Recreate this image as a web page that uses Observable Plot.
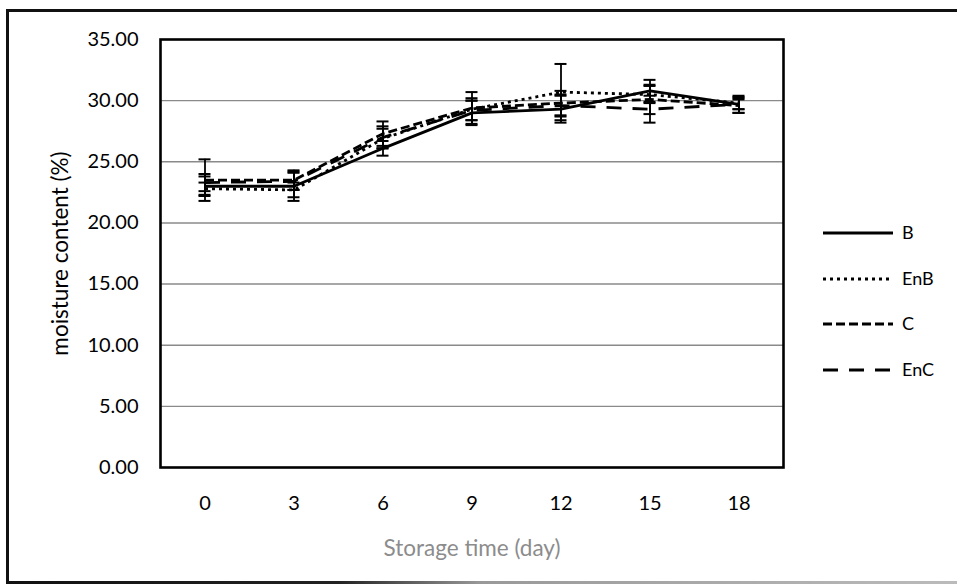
<!DOCTYPE html>
<html>
<head>
<meta charset="utf-8">
<script src="https://cdn.jsdelivr.net/npm/d3@7"></script>
<script src="https://cdn.jsdelivr.net/npm/@observablehq/plot@0.6"></script>
<style>
  html, body { margin: 0; padding: 0; background: #fff; }
  #wrap { position: relative; width: 957px; height: 586px; overflow: hidden; font-family: Lato, "Noto Sans", sans-serif; }
  .edge { position: absolute; background: #111; }
  #legend { position: absolute; left: 0; top: 0; }
</style>
</head>
<body>
<div id="wrap">
  <div id="chart"></div>
  <div class="edge" style="left:6px; top:9px; width:951px; height:2.5px;"></div>
  <div class="edge" style="left:6px; top:9px; width:2.5px; height:575px;"></div>
  <div class="edge" style="left:6px; top:581px; width:951px; height:2.5px; background: linear-gradient(to right, #111 0%, #222 35%, #999 50%, #bbb 100%);"></div>
  <svg id="legend" width="957" height="586"></svg>
</div>
<script>
// Storage time (days) and series names
const days = [0, 3, 6, 9, 12, 15, 18];
const seriesNames = ["B", "EnB", "C", "EnC"];

// Mean moisture content (%) per series
const B   = [23.0, 23.0, 26.1, 29.0, 29.3, 30.8, 29.7];
const EnB = [22.8, 22.7, 26.9, 29.3, 30.7, 30.5, 29.8];
const C   = [23.5, 23.5, 27.3, 29.4, 29.8, 30.1, 29.6];
const EnC = [23.3, 23.4, 27.0, 29.2, 29.6, 29.3, 29.7];

// Standard deviations
const B_err   = [0.8, 1.2, 0.6, 1.0, 1.1, 0.9, 0.4];
const EnB_err = [0.5, 0.6, 0.8, 0.9, 2.3, 0.7, 0.5];
const C_err   = [1.7, 0.8, 1.0, 1.3, 1.0, 1.2, 0.6];
const EnC_err = [0.7, 0.7, 0.9, 0.8, 0.9, 1.1, 0.7];

// Y axis ticks
const yTicks = [0, 5, 10, 15, 20, 25, 30, 35];

const means = {B, EnB, C, EnC};
const errs = {B: B_err, EnB: EnB_err, C: C_err, EnC: EnC_err};
const dashes = {B: null, EnB: "3,4", C: "9,4", EnC: "15,11"};

const rows = seriesNames.flatMap(s => days.map((d, i) => ({
  series: s, day: d, value: means[s][i], err: errs[s][i]
})));

const font = "Lato, 'Noto Sans', sans-serif";

const lines = seriesNames.map(s => Plot.line(rows.filter(r => r.series === s), {
  x: "day", y: "value", stroke: "#000", strokeWidth: 2.8,
  strokeDasharray: dashes[s], strokeLinecap: "butt", strokeLinejoin: "round"
}));

const chart = Plot.plot({
  width: 957,
  height: 586,
  marginLeft: 160,
  marginRight: 174,
  marginTop: 39,
  marginBottom: 119,
  style: {fontFamily: font, fontSize: "20px", color: "#000", background: "transparent"},
  x: {type: "band", domain: days, padding: 0},
  y: {domain: [0, 35]},
  marks: [
    Plot.ruleY(yTicks.filter(t => t > 0 && t < 35), {stroke: "#8a8a8a", strokeWidth: 1.4}),
    Plot.axisY(yTicks, {
      tickSize: 0, tickPadding: 22, tickFormat: d3.format(".2f"), fontSize: 20,
      label: "moisture content (%)", labelAnchor: "center", labelArrow: "none", labelOffset: 108
    }),
    Plot.axisX(days, {
      tickSize: 0, tickPadding: 28, fontSize: 20,
      label: "Storage time (day)", labelAnchor: "center", labelArrow: "none", labelOffset: 88,
      color: "#000"
    }),
    ...lines,
    Plot.ruleX(rows, {x: "day", y1: d => d.value - d.err, y2: d => d.value + d.err, stroke: "#000", strokeWidth: 1.8}),
    Plot.tickY(rows, {x: "day", y: d => d.value + d.err, stroke: "#000", strokeWidth: 2, insetLeft: 38.5, insetRight: 38.5}),
    Plot.tickY(rows, {x: "day", y: d => d.value - d.err, stroke: "#000", strokeWidth: 2, insetLeft: 38.5, insetRight: 38.5}),
    Plot.frame({stroke: "#000", strokeWidth: 2.6})
  ]
});
document.getElementById("chart").appendChild(chart);

// Axis titles: larger type, x title in grey
d3.select(chart).selectAll("[aria-label='y-axis label'] text").attr("font-size", 22.5);
d3.select(chart).selectAll("[aria-label='x-axis label'] text").attr("fill", "#8c8c8c").attr("font-size", 22.5);

// Legend to the right of the plot frame
const lg = d3.select("#legend");
const legendY = [233, 279, 324, 370];
seriesNames.forEach((s, i) => {
  lg.append("line")
    .attr("x1", 823).attr("x2", 893)
    .attr("y1", legendY[i]).attr("y2", legendY[i])
    .attr("stroke", "#000").attr("stroke-width", 2.8)
    .attr("stroke-dasharray", dashes[s]);
  lg.append("text")
    .attr("x", 902).attr("y", legendY[i])
    .attr("dy", "0.35em")
    .attr("font-family", font).attr("font-size", 18)
    .text(s);
});
</script>
</body>
</html>
